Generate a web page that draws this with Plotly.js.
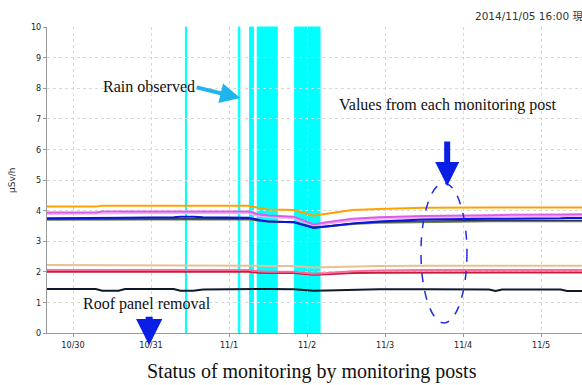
<!DOCTYPE html>
<html>
<head>
<meta charset="utf-8">
<script src="https://cdn.plot.ly/plotly-3.0.1.min.js"></script>
<style>html,body{margin:0;padding:0;overflow:hidden;background:#fff}</style>
</head>
<body>
<div id="chart" style="width:582px;height:385px"></div>
<script>
// ---- data ----
const times = [
  "2014-10-29 16:00","2014-10-30 07:00","2014-10-30 09:00","2014-10-30 14:00","2014-10-30 16:00",
  "2014-10-31 07:00","2014-10-31 09:00","2014-10-31 13:00","2014-10-31 16:00","2014-11-01 06:00",
  "2014-11-01 09:00","2014-11-01 12:00","2014-11-01 20:00","2014-11-02 02:00","2014-11-02 06:00",
  "2014-11-02 14:00","2014-11-02 22:00","2014-11-03 12:00","2014-11-04 08:00","2014-11-04 10:00",
  "2014-11-04 12:00","2014-11-05 06:00","2014-11-05 08:00","2014-11-05 12:35"
];
const orangePost  = [4.13,4.13,4.16,4.16,4.16,4.16,4.16,4.16,4.16,4.16,4.09,4.04,4.02,3.83,3.90,4.02,4.05,4.09,4.10,4.10,4.10,4.10,4.10,4.10];
const magentaPost = [3.94,3.94,3.97,3.97,3.97,3.97,3.97,3.97,3.97,3.97,3.88,3.84,3.80,3.55,3.62,3.73,3.78,3.82,3.85,3.86,3.86,3.87,3.88,3.88];
const lilacPost   = [3.89,3.89,3.91,3.91,3.92,3.92,3.92,3.92,3.92,3.92,3.83,3.79,3.75,3.51,3.57,3.68,3.73,3.77,3.80,3.81,3.81,3.82,3.83,3.83];
const bluePost    = [3.75,3.75,3.76,3.76,3.77,3.78,3.80,3.80,3.78,3.77,3.70,3.64,3.62,3.43,3.48,3.58,3.64,3.71,3.73,3.73,3.74,3.75,3.76,3.76];
const navyPost    = [3.72,3.72,3.73,3.73,3.73,3.74,3.74,3.74,3.74,3.74,3.68,3.65,3.63,3.45,3.49,3.58,3.62,3.66,3.68,3.68,3.68,3.68,3.68,3.68];
const olivePost   = [3.70,3.70,3.70,3.71,3.71,3.71,3.72,3.72,3.72,3.72,3.67,3.64,3.62,3.46,3.48,3.56,3.60,3.63,3.65,3.65,3.65,3.65,3.65,3.65];
const tanPost     = [2.22,2.22,2.22,2.22,2.22,2.22,2.22,2.22,2.22,2.22,2.20,2.19,2.19,2.14,2.15,2.18,2.19,2.20,2.20,2.20,2.20,2.20,2.20,2.20];
const pinkPost    = [2.06,2.06,2.06,2.06,2.06,2.06,2.06,2.06,2.06,2.06,2.02,2.00,2.00,1.94,1.96,2.02,2.04,2.06,2.06,2.06,2.06,2.06,2.06,2.06];
const redPost     = [2.00,2.00,2.00,2.00,2.00,2.00,2.00,2.00,2.00,2.00,1.97,1.96,1.96,1.90,1.92,1.96,1.97,1.98,1.98,1.98,1.98,1.98,1.98,1.98];
const darkPost    = [1.44,1.44,1.38,1.38,1.44,1.44,1.38,1.38,1.42,1.44,1.44,1.44,1.43,1.38,1.39,1.42,1.43,1.43,1.42,1.37,1.42,1.42,1.37,1.37];

const rainStart = ["2014-10-31 10:35","2014-11-01 02:50","2014-11-01 06:20","2014-11-01 08:40","2014-11-01 20:10"];
const rainEnd   = ["2014-10-31 10:55","2014-11-01 03:20","2014-11-01 07:30","2014-11-01 14:50","2014-11-02 04:00"];

const tickDates  = ["2014-10-30","2014-10-31","2014-11-01","2014-11-02","2014-11-03","2014-11-04","2014-11-05"];
const tickLabels = ["10/30","10/31","11/1","11/2","11/3","11/4","11/5"];
const xRange = ["2014-10-29 16:00","2014-11-05 12:35"];

// ---- traces ----
const series = [
  {y: lilacPost,   color: "#f2b0f2", w: 2},
  {y: magentaPost, color: "#d95ee8", w: 2},
  {y: olivePost,   color: "#6b7d4f", w: 2},
  {y: navyPost,    color: "#2a3550", w: 1.2},
  {y: bluePost,    color: "#0a14e0", w: 2},
  {y: orangePost,  color: "#ffa200", w: 2},
  {y: tanPost,     color: "#e6c196", w: 2},
  {y: redPost,     color: "#c41e3c", w: 2},
  {y: pinkPost,    color: "#ff6a9a", w: 2},
  {y: darkPost,    color: "#0c1a2a", w: 2}
];
const traces = series.map(s => ({
  x: times, y: s.y, type: "scatter", mode: "lines",
  line: {color: s.color, width: s.w}, hoverinfo: "skip", showlegend: false
}));

const shapes = rainStart.map((s, i) => ({
  type: "rect", xref: "x", yref: "paper", x0: s, x1: rainEnd[i], y0: 0, y1: 1,
  fillcolor: "#00ffff", line: {color: "#00ffff", width: 1}, layer: "between"
}));
shapes.push({
  type: "circle", xref: "paper", yref: "paper", x0: 0.699, x1: 0.785, y0: 0.033, y1: 0.49,
  line: {color: "#1e2ee0", width: 1.5, dash: "dash"}
});

const serif = "Liberation Serif, Times New Roman, serif";
const txt = (x, y, text, size) => ({xref: "paper", yref: "paper", x: x, y: y, xanchor: "center", yanchor: "middle",
  text: text, showarrow: false, font: {family: serif, size: size, color: "#111"}});
const annotations = [
  txt(0.19, 0.807, "Rain observed", 16),
  txt(0.748, 0.745, "Values from each monitoring post", 16),
  txt(0.187, 0.095, "Roof panel removal", 16),
  txt(0.495, -0.127, "Status of monitoring by monitoring posts", 20),
  {xref: "paper", yref: "paper", x: 0.796, y: 1.036, xanchor: "left", yanchor: "middle", text: "2014/11/05 16:00 現在", showarrow: false,
   font: {family: "DejaVu Sans, Noto Sans CJK JP", size: 10.5, color: "#333"}},
  {xref: "paper", yref: "paper", x: -0.0654, y: 0.5, xanchor: "center", yanchor: "middle", text: "μSv/h", textangle: -90, showarrow: false,
   font: {family: "DejaVu Sans", size: 9, color: "#333"}},
  {xref: "paper", yref: "paper", x: 0.361, y: 0.768, ax: -45, ay: -11, text: "", showarrow: true,
   arrowcolor: "#1fb4ec", arrowwidth: 4, arrowhead: 2, arrowsize: 1},
  {xref: "paper", yref: "paper", x: 0.191, y: -0.04, ax: 0, ay: -30, text: "", showarrow: true,
   arrowcolor: "#0a1ee6", arrowwidth: 7, arrowhead: 2, arrowsize: 0.75},
  {xref: "paper", yref: "paper", x: 0.748, y: 0.48, ax: 0, ay: -46, text: "", showarrow: true,
   arrowcolor: "#0a1ee6", arrowwidth: 6, arrowhead: 2, arrowsize: 0.8}
];

const tickFont = {family: "DejaVu Sans Condensed, DejaVu Sans, sans-serif", size: 9, color: "#222"};
const layout = {
  width: 582, height: 385,
  margin: {l: 47, r: 0, t: 27, b: 52},
  paper_bgcolor: "#fff", plot_bgcolor: "#fff",
  showlegend: false,
  xaxis: {
    type: "date", range: xRange, tickvals: tickDates, ticktext: tickLabels,
    showgrid: true, gridcolor: "#d8d8d8", griddash: "dot", gridwidth: 1,
    showline: true, linecolor: "#999", linewidth: 1, ticks: "outside", ticklen: 3, tickcolor: "#999",
    tickfont: tickFont, zeroline: false, fixedrange: true
  },
  yaxis: {
    range: [0, 10], dtick: 1, tick0: 0,
    showgrid: true, gridcolor: "#d8d8d8", griddash: "dot", gridwidth: 1,
    showline: true, linecolor: "#999", linewidth: 1, ticks: "outside", ticklen: 3, tickcolor: "#999",
    tickfont: tickFont, zeroline: false, fixedrange: true
  },
  shapes: shapes,
  annotations: annotations
};
Plotly.newPlot("chart", traces, layout, {displayModeBar: false, staticPlot: true});
</script>
</body>
</html>
